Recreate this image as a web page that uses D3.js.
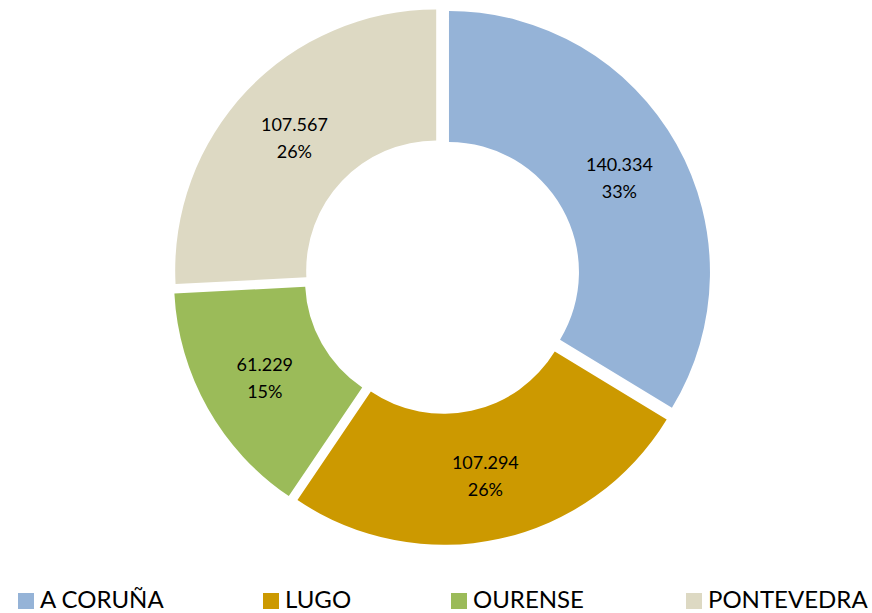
<!DOCTYPE html>
<html>
<head>
<meta charset="utf-8">
<script src="https://cdn.jsdelivr.net/npm/d3@7"></script>
<style>
  body { margin: 0; background: #fff; }
  text { font-family: Lato, "Open Sans", sans-serif; fill: #000; }
</style>
</head>
<body>
<div id="chart"></div>
<script>
const width = 872, height = 613;

// Data
const provinces = ["A CORUÑA", "LUGO", "OURENSE", "PONTEVEDRA"];
const values = [140334, 107294, 61229, 107567];
const valueLabels = ["140.334", "107.294", "61.229", "107.567"];
const pctLabels = ["33%", "26%", "15%", "26%"];
const colors = ["#95b3d7", "#cc9900", "#9bbb59", "#ddd9c3"];

const data = provinces.map((p, i) => ({
  name: p, value: values[i], label: valueLabels[i], pct: pctLabels[i], color: colors[i]
}));

const cx = 442, cy = 276,
      outerR = 261, innerR = 130,
      explode = 8;

const svg = d3.select("#chart")
  .append("svg")
    .attr("width", width)
    .attr("height", height);

const pie = d3.pie()
  .value(d => d.value)
  .sort(null);

const arc = d3.arc()
  .innerRadius(innerR)
  .outerRadius(outerR);

const arcs = pie(data);

const g = svg.append("g")
  .attr("transform", `translate(${cx},${cy})`);

// each slice pushed out a little along its middle angle
const offset = d => {
  const a = (d.startAngle + d.endAngle) / 2;
  return [Math.sin(a) * explode, -Math.cos(a) * explode];
};

const slices = g.selectAll("g.slice")
  .data(arcs)
  .join("g")
    .attr("class", "slice")
    .attr("transform", d => `translate(${offset(d)})`);

slices.append("path")
  .attr("d", arc)
  .attr("fill", d => d.data.color);

// labels
const labelArc = d3.arc()
  .innerRadius((innerR + outerR) / 2)
  .outerRadius((innerR + outerR) / 2);

const labels = slices.append("text")
  .attr("transform", d => `translate(${labelArc.centroid(d)})`)
  .attr("text-anchor", "middle")
  .style("font-size", "18px");

labels.append("tspan")
  .attr("x", 0)
  .attr("dy", "-0.3em")
  .text(d => d.data.label);

labels.append("tspan")
  .attr("x", 0)
  .attr("dy", "1.5em")
  .text(d => d.data.pct);

// legend
const legendX = [18, 263, 451, 686];
const legend = svg.append("g")
  .selectAll("g")
  .data(data)
  .join("g")
    .attr("transform", (d, i) => `translate(${legendX[i]},593)`);

legend.append("rect")
  .attr("width", 16)
  .attr("height", 16)
  .attr("fill", d => d.color);

legend.append("text")
  .attr("x", 22)
  .attr("y", 15)
  .style("font-size", "24px")
  .text(d => d.name);
</script>
</body>
</html>
